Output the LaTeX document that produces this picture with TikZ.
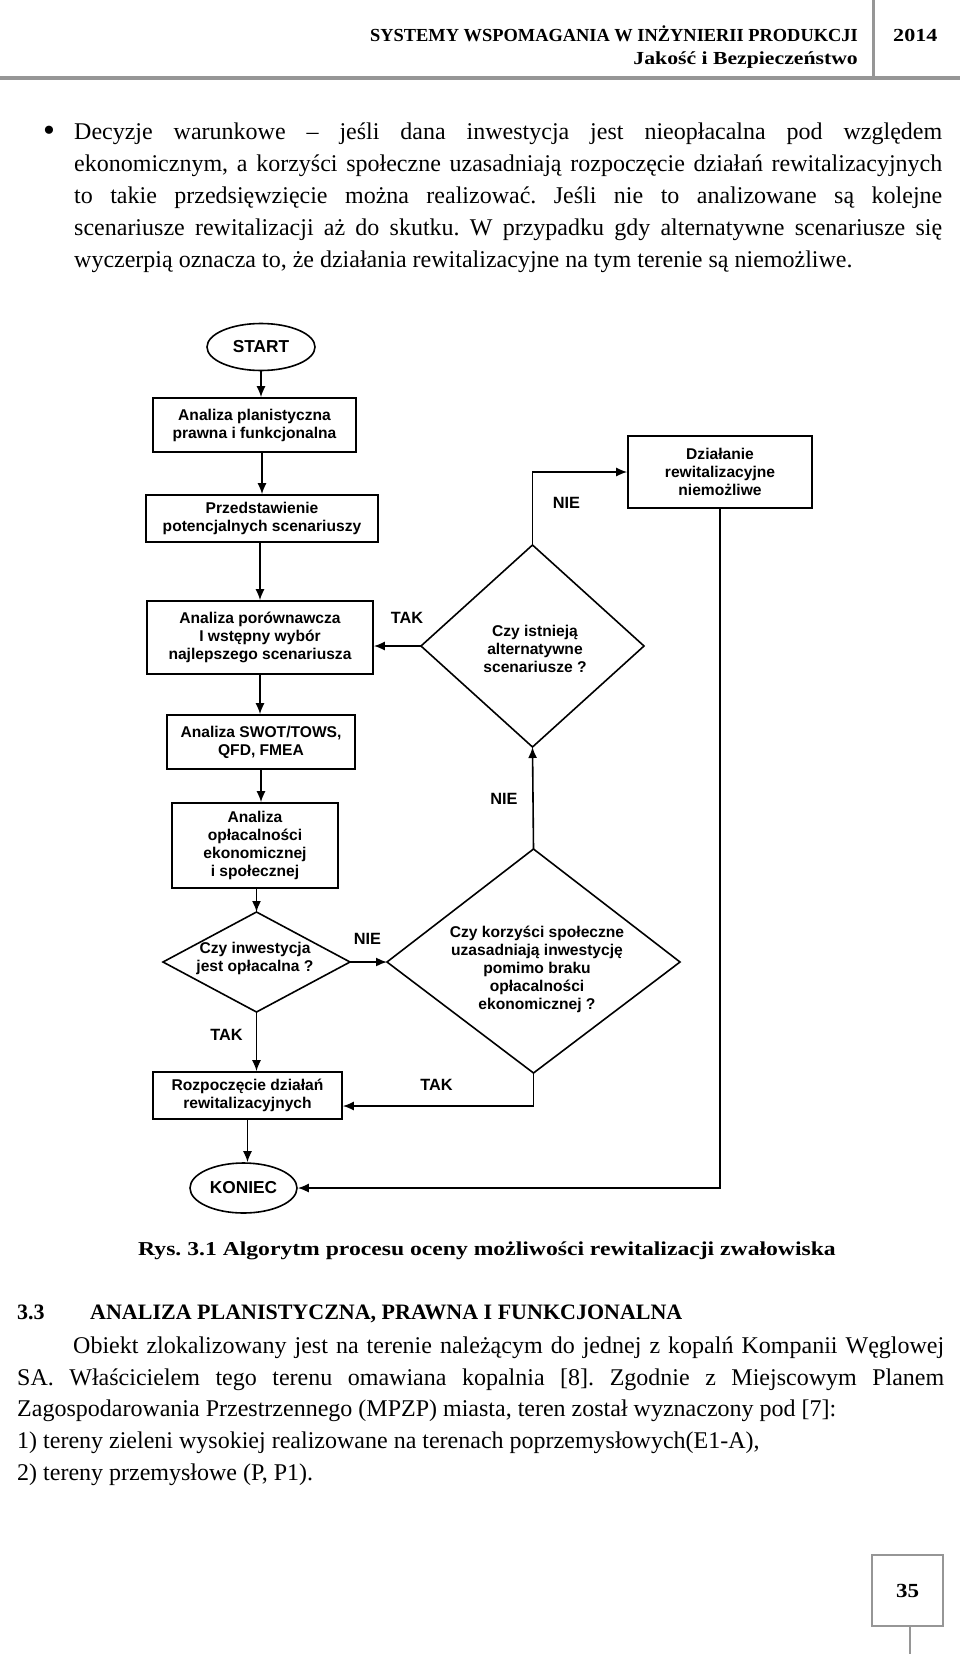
\documentclass[tikz,border=0pt]{standalone}
\usepackage{fontspec}
\usepackage{graphicx}
\setmainfont{Liberation Serif}
\newfontfamily\timesfont{Liberation Serif}
\newfontfamily\arialfont{Liberation Sans}
\usetikzlibrary{arrows.meta,calc,shapes.geometric}
\definecolor{ruleg}{RGB}{150,150,150}
\frenchspacing
\begin{document}
\frenchspacing
\begin{tikzpicture}[x=1pt,y=-1pt,
  body/.style={anchor=base west,inner sep=0pt,font=\timesfont\frenchspacing\fontsize{24}{32}\selectfont},
  box/.style={draw,line width=1.6pt,rectangle,inner sep=0pt,align=center,font=\arialfont\bfseries\fontsize{15.6}{18}\selectfont},
  term/.style={draw,line width=1.6pt,ellipse,inner sep=0pt,font=\arialfont\bfseries\fontsize{17.3}{20}\selectfont},
  qtext/.style={inner sep=0pt,align=center,font=\arialfont\bfseries\fontsize{15.6}{18}\selectfont},
  lab/.style={inner sep=0pt,font=\arialfont\bfseries\fontsize{16.3}{18}\selectfont},
  conn/.style={line width=1.6pt},
  arr/.style={conn,-{Latex[length=11pt,width=9pt]}},
  dia/.style={line width=1.6pt,line join=miter},
  serifb/.style={inner sep=0pt,font=\timesfont\bfseries\fontsize{18.4}{20}\selectfont}
]
\useasboundingbox (0,0) rectangle (960,1654);
\fill[white] (0,0) rectangle (960,1654);

% ---------- header ----------
\node[serifb,anchor=base east] (h1) at (858,41.7) {SYSTEMY WSPOMAGANIA W INŻYNIERII PRODUKCJI};
\node[serifb,anchor=base east] (h2) at (858,65) {\scalebox{1.18}[1]{Jakość i Bezpieczeństwo}};
\node[serifb,anchor=base west] (yr) at (893,41.7) {\scalebox{1.2}[1]{2014}};
\draw[ruleg,line width=3pt] (873,0) -- (873,78);
\draw[ruleg,line width=4pt] (0,78) -- (960,78);

% ---------- paragraph 1 ----------
\node[body,anchor=base,font=\timesfont\fontsize{34}{32}\selectfont] (bul) at (49,141) {•};
\node[body] (p1a) at (74,139) {\makebox[868pt][s]{Decyzje warunkowe – jeśli dana inwestycja jest nieopłacalna pod względem}};
\node[body] (p1b) at (74,171) {\makebox[868pt][s]{ekonomicznym, a korzyści społeczne uzasadniają rozpoczęcie działań rewitalizacyjnych}};
\node[body] (p1c) at (74,203) {\makebox[868pt][s]{to takie przedsięwzięcie można realizować. Jeśli nie to analizowane są kolejne}};
\node[body] (p1d) at (74,235) {\makebox[868pt][s]{scenariusze rewitalizacji aż do skutku. W przypadku gdy alternatywne scenariusze się}};
\node[body] (p1e) at (74,267) {wyczerpią oznacza to, że działania rewitalizacyjne na tym terenie są niemożliwe.};

% ---------- flowchart ----------
\node[term,minimum width=108pt,minimum height=47pt] (start) at (261,347) {START};
\node[box,minimum width=203pt,minimum height=54pt] (b1) at (254.5,425) {Analiza planistyczna\\prawna i funkcjonalna};
\node[box,minimum width=232pt,minimum height=47pt] (b2) at (262,518.5) {Przedstawienie\\potencjalnych scenariuszy};
\node[box,minimum width=226pt,minimum height=73pt] (b3) at (260,637.5) {Analiza porównawcza\\I wstępny wybór\\najlepszego scenariusza};
\node[box,minimum width=188pt,minimum height=54pt] (b4) at (261,742) {Analiza SWOT/TOWS,\\QFD, FMEA};
\node[box,minimum width=166pt,minimum height=85pt] (b5) at (255,845.5) {Analiza\\opłacalności\\ekonomicznej\\i społecznej};
\node[box,minimum width=189pt,minimum height=47pt] (b6) at (247.5,1095.5) {Rozpoczęcie działań\\rewitalizacyjnych};
\node[box,minimum width=184pt,minimum height=72pt] (bD) at (720,472) {Działanie\\rewitalizacyjne\\niemożliwe};
\node[term,minimum width=107pt,minimum height=50pt] (koniec) at (243.5,1188) {KONIEC};

% diamond 1
\coordinate (d1t) at (532.5,545);
\coordinate (d1r) at (644,646);
\coordinate (d1b) at (532.5,747);
\coordinate (d1l) at (421,646);
\draw[dia] (d1t) -- (d1r) -- (d1b) -- (d1l) -- cycle;
\node[qtext] (d1) at (535,649) {Czy istnieją\\alternatywne\\scenariusze ?};
% diamond 2
\coordinate (d2t) at (533.5,849);
\coordinate (d2r) at (680,962);
\coordinate (d2b) at (533.5,1073);
\coordinate (d2l) at (387,962);
\draw[dia] (d2t) -- (d2r) -- (d2b) -- (d2l) -- cycle;
\node[qtext] (d2) at (537,969) {Czy korzyści społeczne\\uzasadniają inwestycję\\pomimo braku\\opłacalności\\ekonomicznej ?};
% diamond 3
\coordinate (d3t) at (256.5,912);
\coordinate (d3r) at (350,962);
\coordinate (d3b) at (256.5,1012);
\coordinate (d3l) at (163,962);
\draw[dia] (d3t) -- (d3r) -- (d3b) -- (d3l) -- cycle;
\node[qtext] (d3) at (255,958) {Czy inwestycja\\jest opłacalna ?};

% connectors
\draw[arr] (start.south) -- (start.south |- b1.north);
\draw[arr] (b2.north |- b1.south) -- (b2.north);
\draw[arr] (b3.north |- b2.south) -- (b3.north);
\draw[arr] (b3.south) -- (b3.south |- b4.north);
\draw[arr] (b4.south) -- (b4.south |- b5.north);
\draw[arr] (d3t |- b5.south) -- (d3t);
\draw[arr] (d3b) -- (d3b |- b6.north);
\draw[arr] (b6.south) -- (b6.south |- koniec.north);
\draw[arr] (d1l) -- (d1l -| b3.east);
\draw[arr] (d1t) |- (bD.west);
\draw[arr] (bD.south) |- (koniec.east);
\draw[arr] (d2t) -- (d1b);
\draw[arr] (d3r) -- (d2l);
\coordinate (b6in) at ($(b6.east)+(0,10.5)$);
\draw[arr] (d2b) |- (b6in);

% labels
\node[lab] (tak1) at (407,618) {TAK};
\node[lab] (nie1) at (566.5,502.5) {NIE};
\node[lab] (nie2) at (504,799) {NIE};
\node[lab] (nie3) at (367.5,939) {NIE};
\node[lab] (tak2) at (226.5,1035) {TAK};
\node[lab] (tak3) at (436.5,1085) {TAK};

% ---------- caption ----------
\node[inner sep=0pt,anchor=base,font=\timesfont\bfseries\fontsize{19.7}{22}\selectfont] (cap) at (487,1255) {\scalebox{1.2}[1]{Rys. 3.1 Algorytm procesu oceny możliwości rewitalizacji zwałowiska}};

% ---------- section ----------
\node[inner sep=0pt,anchor=base west,font=\timesfont\bfseries\fontsize{22}{26}\selectfont] (secno) at (17,1319) {3.3};
\node[inner sep=0pt,anchor=base west,font=\timesfont\bfseries\fontsize{22}{26}\selectfont] (sectitle) at (90,1319) {ANALIZA PLANISTYCZNA, PRAWNA I FUNKCJONALNA};

% ---------- paragraph 2 ----------
\node[body] (p2a) at (73,1353) {\makebox[871pt][s]{Obiekt zlokalizowany jest na terenie należącym do jednej z kopalń Kompanii Węglowej}};
\node[body] (p2b) at (17,1385) {\makebox[927pt][s]{SA. Właścicielem tego terenu omawiana kopalnia [8]. Zgodnie z Miejscowym Planem}};
\node[body] (p2c) at (17,1416) {Zagospodarowania Przestrzennego (MPZP) miasta, teren został wyznaczony pod [7]:};
\node[body] (p2d) at (17,1448) {1) tereny zieleni wysokiej realizowane na terenach poprzemysłowych(E1-A),};
\node[body] (p2e) at (17,1480) {2) tereny przemysłowe (P, P1).};

% ---------- page number ----------
\node[draw=ruleg,line width=2pt,minimum size=71pt,inner sep=0pt,font=\timesfont\bfseries\fontsize{20}{22}\selectfont] (pg) at (907.5,1590.5) {\scalebox{1.15}[1]{35}};
\coordinate (pgend) at (910,1654);
\draw[ruleg,line width=2pt] (pgend |- pg.south) -- (pgend);
\end{tikzpicture}
\end{document}
